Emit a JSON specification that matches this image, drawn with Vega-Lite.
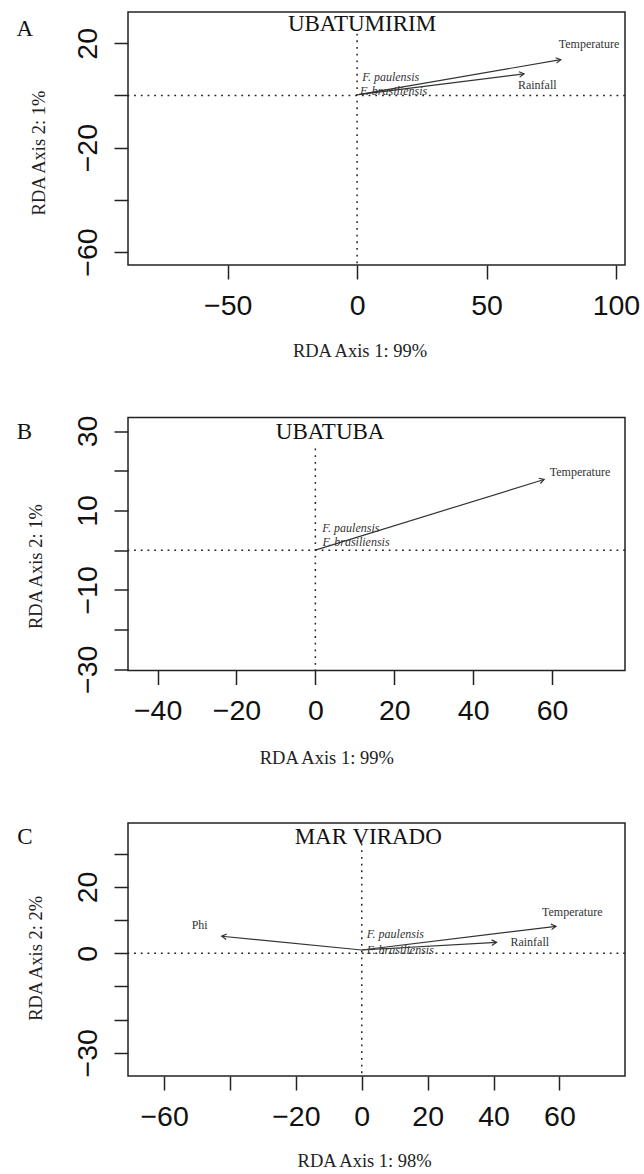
{
  "$schema": "https://vega.github.io/schema/vega-lite/v6.json",
  "padding": {"left": 15, "top": 11, "right": 0, "bottom": 0},
  "background": "white",
  "spacing": 152.5,
  "bounds": "flush",
  "resolve": {"scale": {"x": "independent", "y": "independent", "shape": "independent"}},
  "datasets": {
    "zerolines": [
      {"panel": "A", "x0": 0, "y0": 0, "ytop": 23.7, "ybottom": -65.0},
      {"panel": "B", "x0": 0, "y0": 0, "ytop": 25.6, "ybottom": -30.3},
      {"panel": "C", "x0": 0, "y0": 0, "ytop": 33.1, "ybottom": -37.0}
    ],
    "arrows": [
      {"panel": "A", "variable": "Temperature", "x0": 0.5, "y0": 0.3, "x": 78.7, "y": 13.75},
      {"panel": "A", "variable": "Rainfall", "x0": 0.5, "y0": 0.3, "x": 64.5, "y": 8.3},
      {"panel": "B", "variable": "Temperature", "x0": 0, "y0": 0, "x": 58.0, "y": 17.8},
      {"panel": "C", "variable": "Phi", "x0": 0, "y0": 1.0, "x": -42.5, "y": 5.15},
      {"panel": "C", "variable": "Temperature", "x0": 0, "y0": 1.0, "x": 58.95, "y": 8.14},
      {"panel": "C", "variable": "Rainfall", "x0": 0, "y0": 1.0, "x": 40.9, "y": 3.3}
    ],
    "labels": [
      {"panel": "A", "kind": "letter", "label": "A", "x": -128.35, "y": 25.6},
      {"panel": "A", "kind": "site", "label": "UBATUMIRIM", "x": 1.9, "y": 27.5},
      {"panel": "A", "kind": "variable", "label": "Temperature", "x": 89.6, "y": 19.6},
      {"panel": "A", "kind": "variable", "label": "Rainfall", "x": 69.6, "y": 3.85},
      {"panel": "A", "kind": "species", "label": "F. paulensis", "x": 13.0, "y": 7.15},
      {"panel": "A", "kind": "species", "label": "F. brasiliensis", "x": 14.1, "y": 1.6},
      {"panel": "B", "kind": "letter", "label": "B", "x": -73.76, "y": 29.7},
      {"panel": "B", "kind": "site", "label": "UBATUBA", "x": 3.75, "y": 29.7},
      {"panel": "B", "kind": "variable", "label": "Temperature", "x": 67.1, "y": 19.7},
      {"panel": "B", "kind": "species", "label": "F. paulensis", "x": 9.0, "y": 5.5},
      {"panel": "B", "kind": "species", "label": "F. brasiliensis", "x": 10.3, "y": 1.95},
      {"panel": "C", "kind": "letter", "label": "C", "x": -102.2, "y": 35.06},
      {"panel": "C", "kind": "site", "label": "MAR VIRADO", "x": 1.97, "y": 35.1},
      {"panel": "C", "kind": "variable", "label": "Phi", "x": -49.2, "y": 8.4},
      {"panel": "C", "kind": "variable", "label": "Temperature", "x": 63.9, "y": 12.55},
      {"panel": "C", "kind": "variable", "label": "Rainfall", "x": 51.0, "y": 3.4},
      {"panel": "C", "kind": "species", "label": "F. paulensis", "x": 10.2, "y": 5.8},
      {"panel": "C", "kind": "species", "label": "F. brasiliensis", "x": 11.7, "y": 1.05}
    ]
  },
  "vconcat": [
    {
      "width": 497, "height": 253,
      "layer": [
        {"data": {"name": "zerolines"}, "transform": [{"filter": "datum.panel == 'A'"}],
         "mark": {"type": "rule", "stroke": "#222", "strokeWidth": 1.5, "strokeDash": [1.8, 4.9]},
         "encoding": {"y": {"field": "y0", "type": "quantitative", "scale": {"domain": [-65.0, 32.0], "nice": false, "zero": false},
           "axis": {"title": "RDA Axis 2: 1%", "values": [20, 0, -20, -40, -60], "labelExpr": "datum.value == 0 || datum.value == -40 ? '' : datum.label", "titleX": -90, "titleY": 140.5}}}},
        {"data": {"name": "zerolines"}, "transform": [{"filter": "datum.panel == 'A'"}],
         "mark": {"type": "rule", "stroke": "#222", "strokeWidth": 1.5, "strokeDash": [1.8, 4.9]},
         "encoding": {"x": {"field": "x0", "type": "quantitative", "scale": {"domain": [-88.5, 103.5], "nice": false, "zero": false},
           "axis": {"title": "RDA Axis 1: 99%", "values": [-50, 0, 50, 100], "titleX": 231.5, "titleY": 85.7}},
           "y": {"field": "ytop", "type": "quantitative"}, "y2": {"field": "ybottom"}}},
        {"data": {"name": "arrows"}, "transform": [{"filter": "datum.panel == 'A'"}],
         "mark": {"type": "rule", "stroke": "#333", "strokeWidth": 1.2},
         "encoding": {"x": {"field": "x0", "type": "quantitative"}, "y": {"field": "y0", "type": "quantitative"}, "x2": {"field": "x"}, "y2": {"field": "y"}}},
        {"data": {"name": "arrows"}, "transform": [{"filter": "datum.panel == 'A'"}],
         "mark": {"type": "point", "filled": false, "color": "#333", "strokeWidth": 1.2, "size": 121, "opacity": 1},
         "encoding": {"x": {"field": "x", "type": "quantitative"}, "y": {"field": "y", "type": "quantitative"},
           "shape": {"field": "variable", "type": "nominal", "legend": null, "scale": {"domain": ["Temperature", "Rainfall"], "range": ["M -0.768 0.640 L 0 0 L -0.939 -0.345", "M -0.797 0.605 L 0 0 L -0.922 -0.388"]}}}},
        {"data": {"name": "labels"}, "transform": [{"filter": "datum.panel == 'A' && datum.kind == 'variable'"}],
         "mark": {"type": "text", "font": "Liberation Serif", "fontSize": 12, "color": "#333", "align": "center", "baseline": "middle"},
         "encoding": {"x": {"field": "x", "type": "quantitative"}, "y": {"field": "y", "type": "quantitative"}, "text": {"field": "label"}}},
        {"data": {"name": "labels"}, "transform": [{"filter": "datum.panel == 'A' && datum.kind == 'species'"}],
         "mark": {"type": "text", "font": "Liberation Serif", "fontSize": 12, "fontStyle": "italic", "color": "#333", "align": "center", "baseline": "middle"},
         "encoding": {"x": {"field": "x", "type": "quantitative"}, "y": {"field": "y", "type": "quantitative"}, "text": {"field": "label"}}},
        {"data": {"name": "labels"}, "transform": [{"filter": "datum.panel == 'A' && (datum.kind == 'site' || datum.kind == 'letter')"}],
         "mark": {"type": "text", "font": "Liberation Serif", "fontSize": 23, "color": "#111", "align": "center", "baseline": "middle"},
         "encoding": {"x": {"field": "x", "type": "quantitative"}, "y": {"field": "y", "type": "quantitative"}, "text": {"field": "label"}}}
      ]
    },
    {
      "width": 497, "height": 253,
      "layer": [
        {"data": {"name": "zerolines"}, "transform": [{"filter": "datum.panel == 'B'"}],
         "mark": {"type": "rule", "stroke": "#222", "strokeWidth": 1.5, "strokeDash": [1.8, 4.9]},
         "encoding": {"y": {"field": "y0", "type": "quantitative", "scale": {"domain": [-30.3, 33.4], "nice": false, "zero": false},
           "axis": {"title": "RDA Axis 2: 1%", "values": [30, 20, 10, 0, -10, -20, -30], "labelExpr": "datum.value == 20 || datum.value == 0 || datum.value == -20 ? '' : datum.label", "titleX": -92.2, "titleY": 148.6}}}},
        {"data": {"name": "zerolines"}, "transform": [{"filter": "datum.panel == 'B'"}],
         "mark": {"type": "rule", "stroke": "#222", "strokeWidth": 1.5, "strokeDash": [1.8, 4.9]},
         "encoding": {"x": {"field": "x0", "type": "quantitative", "scale": {"domain": [-47.5, 78.5], "nice": false, "zero": false},
           "axis": {"title": "RDA Axis 1: 99%", "values": [-40, -20, 0, 20, 40, 60], "titleX": 198.3, "titleY": 87}},
           "y": {"field": "ytop", "type": "quantitative"}, "y2": {"field": "ybottom"}}},
        {"data": {"name": "arrows"}, "transform": [{"filter": "datum.panel == 'B'"}],
         "mark": {"type": "rule", "stroke": "#333", "strokeWidth": 1.2},
         "encoding": {"x": {"field": "x0", "type": "quantitative"}, "y": {"field": "y0", "type": "quantitative"}, "x2": {"field": "x"}, "y2": {"field": "y"}}},
        {"data": {"name": "arrows"}, "transform": [{"filter": "datum.panel == 'B'"}],
         "mark": {"type": "point", "filled": false, "color": "#333", "strokeWidth": 1.2, "size": 121, "opacity": 1},
         "encoding": {"x": {"field": "x", "type": "quantitative"}, "y": {"field": "y", "type": "quantitative"},
           "shape": {"field": "variable", "type": "nominal", "legend": null, "scale": {"domain": ["Temperature"], "range": ["M -0.679 0.734 L 0 0 L -0.975 -0.222"]}}}},
        {"data": {"name": "labels"}, "transform": [{"filter": "datum.panel == 'B' && datum.kind == 'variable'"}],
         "mark": {"type": "text", "font": "Liberation Serif", "fontSize": 12, "color": "#333", "align": "center", "baseline": "middle"},
         "encoding": {"x": {"field": "x", "type": "quantitative"}, "y": {"field": "y", "type": "quantitative"}, "text": {"field": "label"}}},
        {"data": {"name": "labels"}, "transform": [{"filter": "datum.panel == 'B' && datum.kind == 'species'"}],
         "mark": {"type": "text", "font": "Liberation Serif", "fontSize": 12, "fontStyle": "italic", "color": "#333", "align": "center", "baseline": "middle"},
         "encoding": {"x": {"field": "x", "type": "quantitative"}, "y": {"field": "y", "type": "quantitative"}, "text": {"field": "label"}}},
        {"data": {"name": "labels"}, "transform": [{"filter": "datum.panel == 'B' && (datum.kind == 'site' || datum.kind == 'letter')"}],
         "mark": {"type": "text", "font": "Liberation Serif", "fontSize": 23, "color": "#111", "align": "center", "baseline": "middle"},
         "encoding": {"x": {"field": "x", "type": "quantitative"}, "y": {"field": "y", "type": "quantitative"}, "text": {"field": "label"}}}
      ]
    },
    {
      "width": 497, "height": 253,
      "layer": [
        {"data": {"name": "zerolines"}, "transform": [{"filter": "datum.panel == 'C'"}],
         "mark": {"type": "rule", "stroke": "#222", "strokeWidth": 1.5, "strokeDash": [1.8, 4.9]},
         "encoding": {"y": {"field": "y0", "type": "quantitative", "scale": {"domain": [-37.0, 39.3], "nice": false, "zero": false},
           "axis": {"title": "RDA Axis 2: 2%", "values": [30, 20, 10, 0, -10, -20, -30], "labelExpr": "datum.value == 20 || datum.value == 0 || datum.value == -30 ? datum.label : ''", "titleX": -92.2, "titleY": 134.8}}}},
        {"data": {"name": "zerolines"}, "transform": [{"filter": "datum.panel == 'C'"}],
         "mark": {"type": "rule", "stroke": "#222", "strokeWidth": 1.5, "strokeDash": [1.8, 4.9]},
         "encoding": {"x": {"field": "x0", "type": "quantitative", "scale": {"domain": [-70.95, 79.9], "nice": false, "zero": false},
           "axis": {"title": "RDA Axis 1: 98%", "values": [-60, -40, -20, 0, 20, 40, 60], "labelExpr": "datum.value == -40 ? '' : datum.label", "titleX": 236.2, "titleY": 84.5}},
           "y": {"field": "ytop", "type": "quantitative"}, "y2": {"field": "ybottom"}}},
        {"data": {"name": "arrows"}, "transform": [{"filter": "datum.panel == 'C'"}],
         "mark": {"type": "rule", "stroke": "#333", "strokeWidth": 1.2},
         "encoding": {"x": {"field": "x0", "type": "quantitative"}, "y": {"field": "y0", "type": "quantitative"}, "x2": {"field": "x"}, "y2": {"field": "y"}}},
        {"data": {"name": "arrows"}, "transform": [{"filter": "datum.panel == 'C'"}],
         "mark": {"type": "point", "filled": false, "color": "#333", "strokeWidth": 1.2, "size": 121, "opacity": 1},
         "encoding": {"x": {"field": "x", "type": "quantitative"}, "y": {"field": "y", "type": "quantitative"},
           "shape": {"field": "variable", "type": "nominal", "legend": null, "scale": {"domain": ["Phi", "Temperature", "Rainfall"], "range": ["M 0.911 -0.413 L 0 0 L 0.813 0.582", "M -0.799 0.602 L 0 0 L -0.921 -0.391", "M -0.837 0.548 L 0 0 L -0.893 -0.451"]}}}},
        {"data": {"name": "labels"}, "transform": [{"filter": "datum.panel == 'C' && datum.kind == 'variable'"}],
         "mark": {"type": "text", "font": "Liberation Serif", "fontSize": 12, "color": "#333", "align": "center", "baseline": "middle"},
         "encoding": {"x": {"field": "x", "type": "quantitative"}, "y": {"field": "y", "type": "quantitative"}, "text": {"field": "label"}}},
        {"data": {"name": "labels"}, "transform": [{"filter": "datum.panel == 'C' && datum.kind == 'species'"}],
         "mark": {"type": "text", "font": "Liberation Serif", "fontSize": 12, "fontStyle": "italic", "color": "#333", "align": "center", "baseline": "middle"},
         "encoding": {"x": {"field": "x", "type": "quantitative"}, "y": {"field": "y", "type": "quantitative"}, "text": {"field": "label"}}},
        {"data": {"name": "labels"}, "transform": [{"filter": "datum.panel == 'C' && (datum.kind == 'site' || datum.kind == 'letter')"}],
         "mark": {"type": "text", "font": "Liberation Serif", "fontSize": 23, "color": "#111", "align": "center", "baseline": "middle"},
         "encoding": {"x": {"field": "x", "type": "quantitative"}, "y": {"field": "y", "type": "quantitative"}, "text": {"field": "label"}}}
      ]
    }
  ],
  "config": {
    "view": {"stroke": "#222", "strokeWidth": 1.5},
    "axis": {"grid": false, "domain": false, "ticks": true, "tickSize": 14, "tickWidth": 1.5, "tickColor": "#222",
      "labelFont": "Liberation Sans", "labelFontSize": 28.5, "labelColor": "#111", "labelFlush": false, "labelOverlap": false,
      "titleFont": "Liberation Serif", "titleFontSize": 18.5, "titleFontWeight": "normal", "titleColor": "#222"},
    "axisX": {"labelPadding": 12.3, "titleBaseline": "middle", "titleAlign": "center"},
    "axisY": {"labelAngle": -90, "labelAlign": "center", "labelBaseline": "alphabetic", "labelPadding": 17.3, "titleAngle": -90, "titleBaseline": "middle", "titleAlign": "center"}
  }
}
